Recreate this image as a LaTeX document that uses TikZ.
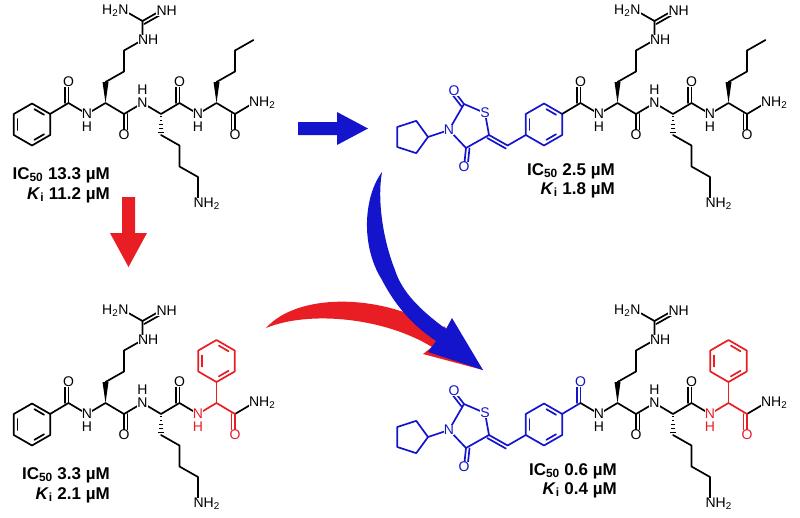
\documentclass[tikz,border=0pt]{standalone}
\usepackage{fontspec}
\setmainfont{Liberation Sans}
\usetikzlibrary{calc}
\definecolor{tzdblue}{RGB}{20,20,205}
\definecolor{phgred}{RGB}{232,30,36}
\tikzset{
  bond/.style={line width=1.7pt, line cap=round, line join=round},
  atom/.style={font=\fontsize{14}{14}\selectfont, fill=white, inner sep=0.4pt},
  potency/.style={font=\bfseries\fontsize{17}{17}\selectfont, anchor=east, inner sep=0pt}
}
% double bond: second line on side #3
\newcommand\dbl[3]{%
  \draw[bond] (#1) -- (#2);
  \draw[bond] ($(#1)!3.5pt!#3:(#2)$) -- ($(#2)!3.5pt!-#3:(#1)$);}
\newcommand\wedgebond[2]{%
  \fill (#1) -- ($(#2)!3pt!90:(#1)$) -- ($(#2)!3pt!-90:(#1)$) -- cycle;}
\newcommand\hashbond[2]{%
  \foreach \t in {0.1,0.3,0.5,0.7,0.9} {
    \pgfmathsetmacro\w{0.6+2.6*\t}
    \coordinate (hp) at ($(#1)!\t!(#2)$);
    \draw[line width=1pt] ($(hp)!\w pt!90:(#2)$) -- ($(hp)!\w pt!-90:(#2)$);
  }}
\newcommand\benzring[1]{%
  \draw[bond] ($(#1)+(30:21)$) \foreach \a in {90,150,...,390} { -- ($(#1)+(\a:21)$) } -- cycle;
  \foreach \a in {30,150,270} {
    \draw[bond] ($(#1)+(\a+9:15.5)$) -- ($(#1)+(\a+51:15.5)$);
  }}
% common part: benzoyl C=O, Arg, Lys
\newcommand\peptidecore[1]{%
  \coordinate (k0) at (50,114);   \coordinate (k1) at (68.5,103);
  \coordinate (k2) at (87,114);   \coordinate (k3) at (105.5,103);
  \coordinate (k4) at (124,114);  \coordinate (k5) at (142.5,103);
  \coordinate (k6) at (161,114);  \coordinate (k7) at (179.5,103);
  \coordinate (k8) at (198,114);  \coordinate (k9) at (216.5,103);
  \coordinate (k10) at (235,114); \coordinate (k11) at (253.5,103);
  \coordinate (o1) at (68.5,82);  \coordinate (o4) at (124,135);
  \coordinate (o7) at (179.5,82);
  \begin{scope}[#1]
    \draw[bond] (k0) -- (k1);
    \dbl{k1}{o1}{90}
    \node[atom] (O1) at (o1) {O};
  \end{scope}
  \draw[bond] (k1) -- (k2) -- (k3) -- (k4) -- (k5) -- (k6) -- (k7) -- (k8);
  \dbl{k4}{o4}{90}
  \dbl{k7}{o7}{90}
  % Arg side chain
  \wedgebond{k3}{105.5,82}
  \draw[bond] (105.5,82) -- (124,71.5) -- (124,50.5) -- (142.5,40) -- (142.5,21) -- (124,10.5);
  \draw[bond] (142.5,21) -- (161,10.5);
  \draw[bond] ($(142.5,21)!3.5pt!-90:(161,10.5)$) -- ($(161,10.5)!3.5pt!90:(142.5,21)$);
  \node[atom, anchor=west, xshift=-5pt] (NHe) at (142.5,40) {NH};
  \node[atom, anchor=east, xshift=5pt] (H2N) at (124,10.5) {H\textsubscript{2}N};
  \node[atom, anchor=west, xshift=-5pt] (NHi) at (161,10.5) {NH};
  % Lys side chain
  \hashbond{k6}{161,135}
  \draw[bond] (161,135) -- (179.5,145.5) -- (179.5,166.5) -- (198,177) -- (198,198);
  \node[atom, anchor=west, xshift=-5pt] (NHz) at (198,204) {NH\textsubscript{2}};
  \node[atom] (O4) at (o4) {O};
  \node[atom] (O7) at (o7) {O};
  \node[atom] (N2) at (k2) {N};
  \node[atom] (H2) at (87,127) {H};
  \node[atom] (N5) at (k5) {N};
  \node[atom] (H5) at (142.5,90) {H};}
% Nle amide
\newcommand\nleres{%
  \draw[bond] (k8) -- (k9) -- (k10) -- (k11);
  \dbl{k10}{235,135}{-90}
  \wedgebond{k9}{216.5,82}
  \draw[bond] (216.5,82) -- (235,71.5) -- (235,50.5) -- (253.5,40);
  \node[atom] (O10) at (235,135) {O};
  \node[atom, anchor=west, xshift=-5pt] (NH2) at (k11) {NH\textsubscript{2}};
  \node[atom] (N8) at (k8) {N};
  \node[atom] (H8) at (198,127) {H};}
% Phg amide
\newcommand\phgres{%
  \draw[bond] (k10) -- (k11);
  \begin{scope}[phgred, draw=phgred]
    \draw[bond] (k8) -- (k9) -- (k10);
    \draw[bond] (k9) -- (216.5,82);
    \benzring{216.5,61}
    \dbl{k10}{235,135}{-90}
    \node[atom] (O10) at (235,135) {O};
    \node[atom] (N8) at (k8) {N};
    \node[atom] (H8) at (198,127) {H};
  \end{scope}
  \node[atom, anchor=west, xshift=-5pt] (NH2) at (k11) {NH\textsubscript{2}};}
% thiazolidinedione head group
\newcommand\tzdhead{%
  \begin{scope}[tzdblue, draw=tzdblue]
    \benzring{32,124.5}
    \draw[bond] (13.8,135) -- (-4.4,145.5);
    \dbl{-4.4,145.5}{-23,135}{90}
    \draw[bond] (-23,135) -- (-27,113) -- (-48,104) -- (-63,130) -- (-46,148) -- cycle;
    \dbl{-48,104}{-58,91}{90}
    \dbl{-46,148}{-48,167}{90}
    \draw[bond] (-63,130) -- (-84,137);
    \draw[bond] (-84,137) \foreach \a in {72,144,...,360} { -- ($(-101,137)+(\a:17)$) } -- cycle;
    \node[atom] (S) at (-27,113) {S};
    \node[atom] (Ntzd) at (-63,130) {N};
    \node[atom] (O2) at (-58,91) {O};
    \node[atom] (O4t) at (-48,167) {O};
  \end{scope}}

\begin{document}
\begin{tikzpicture}[x=1pt, y=-1pt]
  \useasboundingbox (0,0) rectangle (800,517);

  % top left
  \begin{scope}
    \benzring{32,124.5}
    \peptidecore{}
    \nleres
    \node[potency] (ic1) at (110,175) {IC\textsubscript{50} 13.3 µM};
    \node[potency] (ki1) at (110,195) {\textit{K}\textsubscript{i} 11.2 µM};
  \end{scope}

  % top right
  \begin{scope}[shift={(512,0)}]
    \tzdhead
    \peptidecore{}
    \nleres
    \node[potency] (ic2) at (103,171) {IC\textsubscript{50} 2.5 µM};
    \node[potency] (ki2) at (103,190) {\textit{K}\textsubscript{i} 1.8 µM};
  \end{scope}

  % bottom left
  \begin{scope}[shift={(0,300)}]
    \benzring{32,124.5}
    \peptidecore{}
    \phgres
    \node[potency] (ic3) at (110,175) {IC\textsubscript{50} 3.3 µM};
    \node[potency] (ki3) at (110,195) {\textit{K}\textsubscript{i} 2.1 µM};
  \end{scope}

  % bottom right
  \begin{scope}[shift={(512,300)}]
    \tzdhead
    \peptidecore{tzdblue, draw=tzdblue}
    \phgres
    \node[potency] (ic4) at (105,171) {IC\textsubscript{50} 0.6 µM};
    \node[potency] (ki4) at (105,190) {\textit{K}\textsubscript{i} 0.4 µM};
  \end{scope}

  % arrows
  \fill[tzdblue] (298,122) -- (337,122) -- (337,112) -- (368,128.5) -- (337,145) -- (337,135) -- (298,135) -- cycle;
  \fill[phgred] (122,197) -- (135,197) -- (135,233) -- (147,233) -- (128.5,267) -- (110,233) -- (122,233) -- cycle;
  \fill[phgred] (266,328) .. controls (300,290) and (390,295) .. (442,331)
    -- (444,326) -- (483,370) -- (423,354) -- (432,347)
    .. controls (385,318) and (310,310) .. (266,328) -- cycle;
  \fill[tzdblue] (382,172) .. controls (364,196) and (360,245) .. (382,280)
    .. controls (395,305) and (412,325) .. (436,341)
    -- (428,352) -- (483,370) -- (452,318) -- (446,329)
    .. controls (420,310) and (402,292) .. (395,270)
    .. controls (383,240) and (377,200) .. (382,172) -- cycle;
\end{tikzpicture}
\end{document}
